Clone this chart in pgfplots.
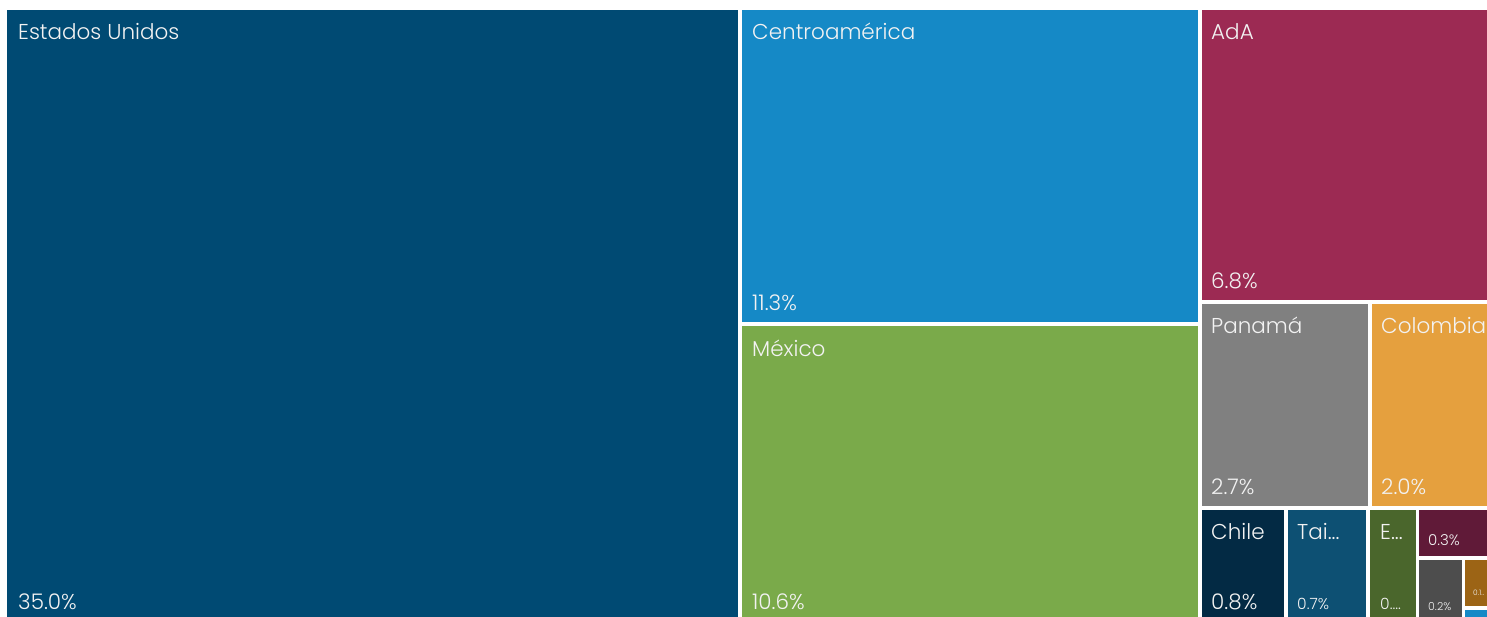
\documentclass[border=0pt]{standalone}
\usepackage{pgfplots}
\pgfplotsset{compat=1.18}
\usepackage{fontspec}
\setmainfont{Poppins Light}
\definecolor{cUS}{RGB}{0,74,115}
\definecolor{cCA}{RGB}{21,137,198}
\definecolor{cMX}{RGB}{122,170,74}
\definecolor{cAdA}{RGB}{156,42,83}
\definecolor{cPA}{RGB}{128,128,128}
\definecolor{cCO}{RGB}{229,160,62}
\definecolor{cCL}{RGB}{3,42,68}
\definecolor{cTW}{RGB}{13,80,115}
\definecolor{cE}{RGB}{74,102,44}
\definecolor{cP3}{RGB}{96,26,56}
\definecolor{cG2}{RGB}{77,77,77}
\definecolor{cB1}{RGB}{156,100,21}
\definecolor{txt}{RGB}{242,242,242}
\newcommand{\bigsz}{\fontsize{21.5}{24}\selectfont}
\newcommand{\midsz}{\fontsize{15.5}{18}\selectfont}
\begin{document}
\begin{tikzpicture}
\begin{axis}[
  width=1487pt, height=616pt, scale only axis,
  xmin=0, xmax=1487, ymin=0, ymax=616, y dir=reverse,
  hide axis, clip=true,
  every axis plot/.append style={draw=none},
]
% Estados Unidos 35.0
\addplot[fill=cUS] coordinates {(7,10) (738,10) (738,625) (7,625)} --cycle;
% Centroamerica 11.3
\addplot[fill=cCA] coordinates {(742,10) (1198,10) (1198,322) (742,322)} --cycle;
% Mexico 10.6
\addplot[fill=cMX] coordinates {(742,326) (1198,326) (1198,625) (742,625)} --cycle;
% AdA 6.8
\addplot[fill=cAdA] coordinates {(1202,10) (1495,10) (1495,300) (1202,300)} --cycle;
% Panama 2.7
\addplot[fill=cPA] coordinates {(1202,304) (1368,304) (1368,506) (1202,506)} --cycle;
% Colombia 2.0
\addplot[fill=cCO] coordinates {(1372,304) (1495,304) (1495,506) (1372,506)} --cycle;
% Chile 0.8
\addplot[fill=cCL] coordinates {(1202,510) (1284,510) (1284,625) (1202,625)} --cycle;
% Tai 0.7
\addplot[fill=cTW] coordinates {(1288,510) (1366,510) (1366,625) (1288,625)} --cycle;
% E 0.x
\addplot[fill=cE] coordinates {(1370,510) (1416,510) (1416,625) (1370,625)} --cycle;
% 0.3
\addplot[fill=cP3] coordinates {(1419,510) (1495,510) (1495,556) (1419,556)} --cycle;
% 0.2
\addplot[fill=cG2] coordinates {(1419,560) (1462,560) (1462,625) (1419,625)} --cycle;
% 0.1
\addplot[fill=cB1] coordinates {(1465,560) (1495,560) (1495,606) (1465,606)} --cycle;
% tiny blue
\addplot[fill=cCA] coordinates {(1465,610) (1495,610) (1495,625) (1465,625)} --cycle;

\begin{scope}[every node/.style={anchor=base west, text=txt, inner sep=0pt}]
\node[font=\bigsz] at (axis cs:18,39) {Estados Unidos};
\node[font=\bigsz] at (axis cs:18,609) {35.0\%};
\node[font=\bigsz] at (axis cs:752,39) {Centroamérica};
\node[font=\bigsz] at (axis cs:752,310) {11.3\%};
\node[font=\bigsz] at (axis cs:752,356) {México};
\node[font=\bigsz] at (axis cs:752,609) {10.6\%};
\node[font=\bigsz] at (axis cs:1211,39) {AdA};
\node[font=\bigsz] at (axis cs:1211,288) {6.8\%};
\node[font=\bigsz] at (axis cs:1211,333) {Panamá};
\node[font=\bigsz] at (axis cs:1211,494) {2.7\%};
\node[font=\bigsz] at (axis cs:1381,333) {Colombia};
\node[font=\bigsz] at (axis cs:1381,494) {2.0\%};
\node[font=\bigsz] at (axis cs:1211,539) {Chile};
\node[font=\bigsz] at (axis cs:1211,609) {0.8\%};
\node[font=\bigsz] at (axis cs:1297,539) {Tai...};
\node[font=\midsz] at (axis cs:1297,609) {0.7\%};
\node[font=\bigsz] at (axis cs:1380,539) {E...};
\node[font=\midsz] at (axis cs:1380,609) {0....};
\node[font=\fontsize{15}{16}\selectfont] at (axis cs:1428,545) {0.3\%};
\node[font=\fontsize{11}{12}\selectfont] at (axis cs:1428,610) {0.2\%};
\node[font=\fontsize{7.5}{8}\selectfont] at (axis cs:1473,595) {0.1..};
\end{scope}
\end{axis}
\pgfresetboundingbox
\path (current axis.south west) rectangle (current axis.north east);
\end{tikzpicture}
\end{document}
